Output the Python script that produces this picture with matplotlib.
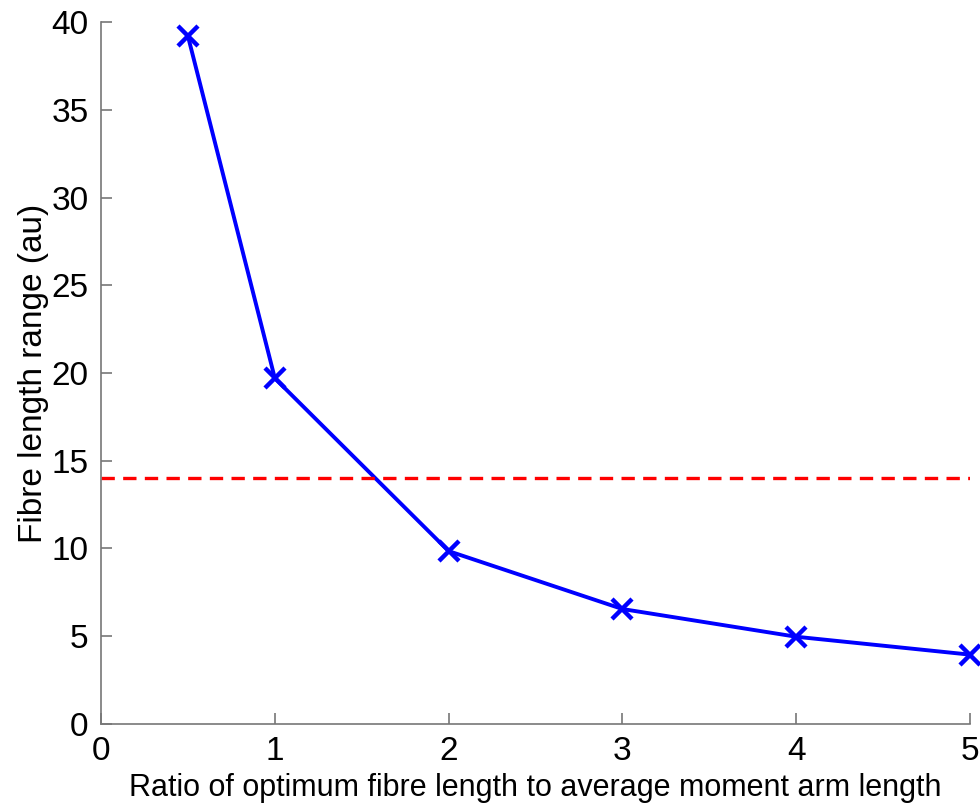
import matplotlib
matplotlib.use('Agg')
import matplotlib.pyplot as plt

ratio = [0.5, 1, 2, 3, 4, 5]
fibre_range = [39.2, 19.7, 9.85, 6.55, 4.97, 3.95]
threshold = 14

plt.rcParams['font.family'] = ['Liberation Sans', 'DejaVu Sans']

fig = plt.figure(figsize=(9.8, 8.07), dpi=100)
ax = fig.add_axes([0.1031, 0.1029, 0.8867, 0.8698])

ax.plot(ratio, fibre_range, '-x', color='#0000ff', linewidth=2.8,
        markersize=14, markeredgewidth=3.2, clip_on=False)
ax.axhline(threshold, color='#ff0000', linestyle='--', linewidth=2.4,
           dashes=(4, 2.5))

ax.set_xlim(0, 5)
ax.set_ylim(0, 40)
ax.set_xticks([0, 1, 2, 3, 4, 5])
ax.set_yticks([0, 5, 10, 15, 20, 25, 30, 35, 40])

for s in ['top', 'right']:
    ax.spines[s].set_visible(False)
for s in ['left', 'bottom']:
    ax.spines[s].set_color('#777777')
    ax.spines[s].set_linewidth(1.2)

ax.tick_params(direction='in', length=8, width=1.2, color='#777777',
               labelsize=24, pad=9)
ax.set_xlabel('Ratio of optimum fibre length to average moment arm length',
              fontsize=22, labelpad=4)
ax.set_ylabel('Fibre length range (au)', fontsize=24, labelpad=2)

fig.savefig('out.png', dpi=100)
